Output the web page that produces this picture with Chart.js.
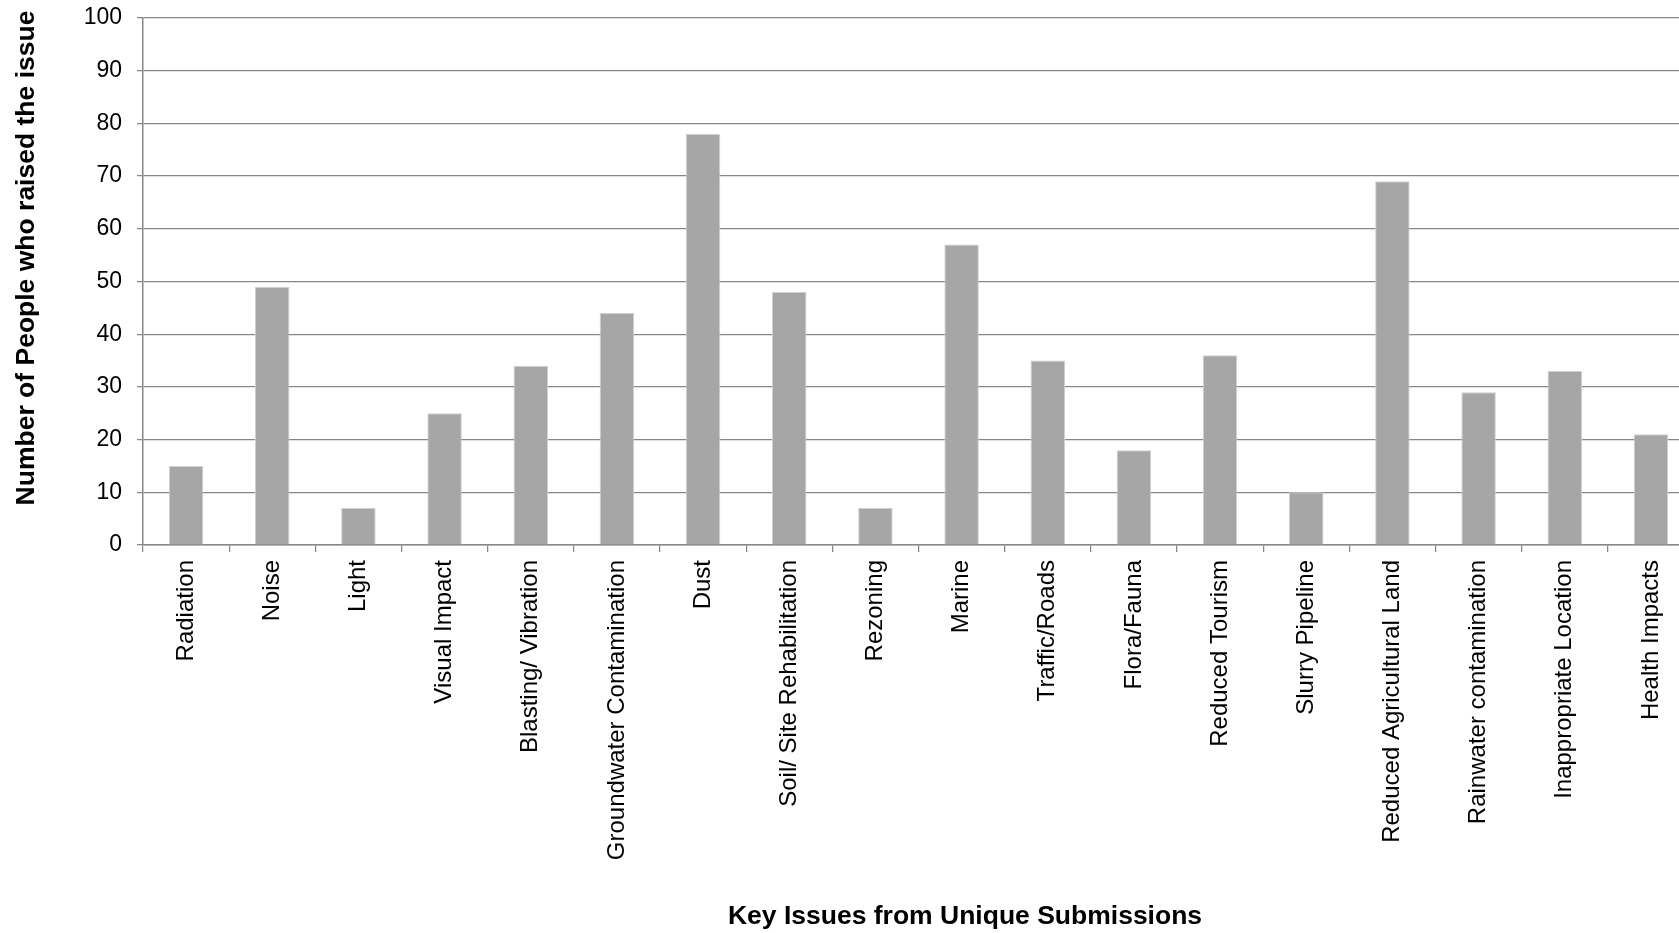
<!DOCTYPE html>
<html>
<head>
<meta charset="utf-8">
<title>Key Issues from Unique Submissions</title>
<script src="https://cdn.jsdelivr.net/npm/chart.js@4"></script>
<style>
    html, body { margin: 0; padding: 0; background: #ffffff; overflow: hidden; }
    #wrap { width: 1700px; height: 933px; }
</style>
</head>
<body>
<div id="wrap"><canvas id="issues-chart" width="1700" height="933"></canvas></div>
<script>
// --- Data ---
const issues = [
    'Radiation', 'Noise', 'Light', 'Visual Impact', 'Blasting/ Vibration',
    'Groundwater Contamination', 'Dust', 'Soil/ Site Rehabilitation', 'Rezoning',
    'Marine', 'Traffic/Roads', 'Flora/Fauna', 'Reduced Tourism', 'Slurry Pipeline',
    'Reduced Agricultural Land', 'Rainwater contamination', 'Inappropriate Location',
    'Health Impacts'
];
const peopleCounts = [15, 49, 7, 25, 34, 44, 78, 48, 7, 57, 35, 18, 36, 10, 69, 29, 33, 21];
const yTicks = [0, 10, 20, 30, 40, 50, 60, 70, 80, 90, 100];
const xTitle = 'Key Issues from Unique Submissions';
const yTitle = 'Number of People who raised the issue';

const FONT = "'Liberation Sans', Arial, sans-serif";
const GRID = '#878787';
const BAR = '#a6a6a6';

// Axis titles are drawn by hand so they can sit off the plot's centre line
const axisTitles = {
    id: 'axisTitles',
    afterDraw(chart) {
        const c = chart.ctx;
        c.save();
        c.fillStyle = '#000000';
        c.font = `bold 26.5px ${FONT}`;
        c.textAlign = 'center';
        c.textBaseline = 'middle';
        c.fillText(xTitle, 965, 917);

        c.translate(27, 258);
        c.rotate(-Math.PI / 2);
        c.fillText(yTitle, 0, 0);
        c.restore();
    }
};

// --- Chart ---
const ctx = document.getElementById('issues-chart').getContext('2d');
new Chart(ctx, {
    type: 'bar',
    data: {
        labels: issues,
        datasets: [{
            label: yTitle,
            data: peopleCounts,
            backgroundColor: BAR,
            borderColor: '#cfcfcf',
            borderWidth: 1,
            barPercentage: 0.4,
            categoryPercentage: 1
        }]
    },
    plugins: [axisTitles],
    options: {
        responsive: false,
        animation: false,
        devicePixelRatio: 1,
        layout: { padding: { top: 18, right: 6, bottom: 0, left: 0 } },
        plugins: {
            legend: { display: false },
            tooltip: { enabled: false }
        },
        scales: {
            x: {
                grid: {
                    display: true,
                    drawOnChartArea: false,
                    drawTicks: true,
                    tickLength: 7,
                    color: GRID,
                    lineWidth: 1.25,
                    offset: true
                },
                border: { color: GRID, width: 1.5 },
                ticks: {
                    color: '#000000',
                    font: { family: FONT, size: 24 },
                    minRotation: 90,
                    maxRotation: 90,
                    autoSkip: false,
                    padding: 8
                },
                afterFit: (scale) => { scale.height = 388; }
            },
            y: {
                min: 0,
                max: 100,
                afterBuildTicks: (scale) => {
                    scale.ticks = yTicks.map(v => ({ value: v }));
                },
                grid: {
                    color: GRID,
                    lineWidth: 1.25,
                    drawTicks: true,
                    tickLength: 6
                },
                border: { color: GRID, width: 1.5 },
                ticks: {
                    color: '#000000',
                    font: { family: FONT, size: 23 },
                    padding: 15
                },
                afterFit: (scale) => {
                    scale.width = 143;
                    // label padding should not push the plot down
                    scale.paddingTop = 0;
                    scale.paddingBottom = 0;
                }
            }
        }
    }
});
</script>
</body>
</html>
